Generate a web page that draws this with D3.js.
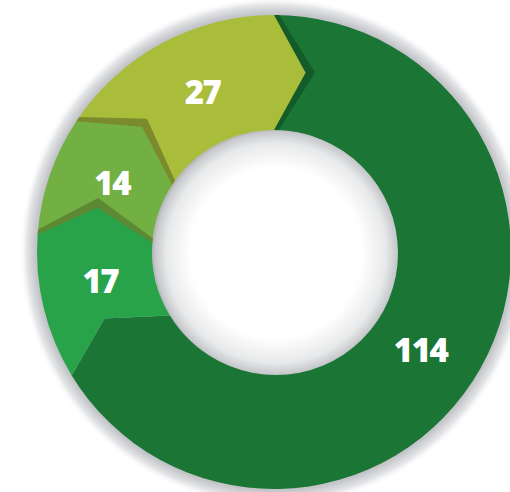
<!DOCTYPE html>
<html>
<head>
<meta charset="utf-8">
<script src="https://cdn.jsdelivr.net/npm/d3@7"></script>
<style>
  html, body { margin: 0; padding: 0; background: #fff; }
  svg { display: block; }
</style>
</head>
<body>
<svg class="d3" width="510" height="492"></svg>
<script>
// values, clockwise from 12 o'clock
const values = [114, 17, 14, 27];
const labels = ["114", "17", "14", "27"];
const colors = ["#1b7535", "#29a34a", "#72b043", "#a9bd3a"];
// shadow cast by each arrow tip onto the next slice (null = none)
const tipShadows = [null, "#5e8934", "#7b8a2c", "#135c2a"];
// draw order: later slices overlap the notch of the next one
const drawOrder = [0, 3, 2, 1];

const width = 510;
const height = 492;
const cx = 274, cy = 252;
const outerR = 237;
const innerR = 122;
const midR = 182;
const tip = 10 * Math.PI / 180;

const svg = d3.select("svg.d3");
const defs = svg.append("defs");

const glow = defs.append("radialGradient").attr("id", "glow");
glow.append("stop").attr("offset", 0.9).attr("stop-color", "#b9babe");
glow.append("stop").attr("offset", 0.935).attr("stop-color", "#c4c5c9");
glow.append("stop").attr("offset", 0.97).attr("stop-color", "#e4e5e7");
glow.append("stop").attr("offset", 1).attr("stop-color", "#ffffff").attr("stop-opacity", 0);

const hole = defs.append("radialGradient").attr("id", "hole");
hole.append("stop").attr("offset", 0).attr("stop-color", "#ffffff");
hole.append("stop").attr("offset", 0.7).attr("stop-color", "#ffffff");
hole.append("stop").attr("offset", 0.9).attr("stop-color", "#e8e9ea");
hole.append("stop").attr("offset", 1).attr("stop-color", "#c4c5c8");

const g = svg.append("g").attr("transform", `translate(${cx},${cy})`);

g.append("circle").attr("r", outerR + 18).attr("fill", "url(#glow)");

const pie = d3.pie().sort(null).startAngle(0).endAngle(2 * Math.PI);
const arcs = pie(values);

function pt(r, a) {
  return [r * Math.sin(a), -r * Math.cos(a)];
}

// ring slice with a chevron notch at the start and an arrow tip at the end
function chevron(d) {
  const p = d3.path();
  const a0 = d.startAngle, a1 = d.endAngle;
  p.moveTo(...pt(outerR, a0));
  p.arc(0, 0, outerR, a0 - Math.PI / 2, a1 - Math.PI / 2, false);
  p.lineTo(...pt(midR, a1 + tip));
  p.lineTo(...pt(innerR, a1));
  p.arc(0, 0, innerR, a1 - Math.PI / 2, a0 - Math.PI / 2, true);
  p.lineTo(...pt(midR, a0 + tip));
  p.closePath();
  return p.toString();
}

function tipShadow(d) {
  const a1 = d.endAngle;
  const p = d3.path();
  p.moveTo(...pt(outerR, a1));
  p.lineTo(...pt(outerR, a1 + 0.022));
  p.lineTo(...pt(midR + 2, a1 + tip + 0.05));
  p.lineTo(...pt(innerR, a1 + 0.04));
  p.lineTo(...pt(innerR, a1));
  p.closePath();
  return p.toString();
}

drawOrder.forEach((i) => {
  const d = arcs[i];
  if (tipShadows[i]) {
    g.append("path").attr("d", tipShadow(d)).attr("fill", tipShadows[i]);
  }
  g.append("path").attr("d", chevron(d)).attr("fill", colors[i]);
});

g.append("circle")
  .attr("cx", 2).attr("cy", 1)
  .attr("r", innerR)
  .attr("fill", "url(#hole)");

const labelShift = 4.3 * Math.PI / 180;
const labelR = 176;
g.selectAll("text.val")
  .data(arcs)
  .enter()
  .append("text")
  .attr("class", "val")
  .attr("x", (d) => pt(labelR, (d.startAngle + d.endAngle) / 2 + labelShift)[0])
  .attr("y", (d) => pt(labelR, (d.startAngle + d.endAngle) / 2 + labelShift)[1])
  .attr("text-anchor", "middle")
  .attr("dominant-baseline", "central")
  .attr("fill", "#ffffff")
  .style("font-family", "'Open Sans', sans-serif")
  .style("font-weight", 800)
  .style("font-size", "33px")
  .style("letter-spacing", "-1.5px")
  .text((d, i) => labels[i]);
</script>
</body>
</html>
